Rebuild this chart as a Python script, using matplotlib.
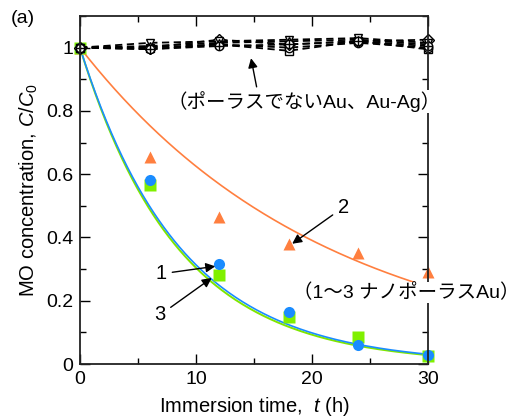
import numpy as np
import matplotlib.pyplot as plt
from matplotlib.ticker import MultipleLocator

plt.rcParams['font.family'] = ['Liberation Sans', 'Noto Sans CJK JP', 'DejaVu Sans']
plt.rcParams['mathtext.fontset'] = 'custom'
plt.rcParams['mathtext.it'] = 'Liberation Sans:italic'
plt.rcParams['mathtext.rm'] = 'Liberation Sans'

# sampling times (h)
t = [0, 6, 12, 18, 24, 30]

# nanoporous Au samples 1-3 (C/C0)
np1 = [1.0, 0.58, 0.315, 0.165, 0.06, 0.028]
np2 = [1.0, 0.655, 0.465, 0.38, 0.35, 0.29]
np3 = [1.0, 0.565, 0.28, 0.15, 0.085, 0.025]

# first-order rate constants of the fitted curves (1/h)
k1 = 0.116
k2 = 0.047
k3 = 0.119

# non-porous Au, Au-Ag
flat_sq = [1.0, 1.0, 1.01, 0.99, 1.02, 0.995]
flat_ci = [1.0, 0.995, 1.01, 1.0, 1.015, 1.0]
flat_di = [1.0, 1.0, 1.025, 1.01, 1.02, 1.025]
flat_dn = [1.0, 1.015, 1.02, 1.025, 1.03, 1.015]
flat_up = [1.0, 1.005, 1.015, 1.02, 1.025, 1.01]
flat_cp = [1.0, 0.995, 1.005, 1.01, 1.02, 1.005]

fig = plt.figure(figsize=(5.18, 4.2), dpi=100)
ax = fig.add_axes([0.1544, 0.1333, 0.6718, 0.8287])

tt = np.linspace(0, 30, 200)
ax.plot(tt, np.exp(-k2*tt), color='#ff7f3f', lw=1.2)
ax.plot(tt, np.exp(-k3*tt), color='#7fe600', lw=1.4)
ax.plot(tt, np.exp(-k1*tt), color='#1a8cff', lw=1.2)

ax.plot(t, np2, '^', color='#ff7f3f', ms=9, mec='none', clip_on=False)
ax.plot(t, np3, 's', color='#80f000', ms=8, mec='none', clip_on=False)
ax.plot(t, np1, 'o', color='#1a8cff', ms=8, mec='none', clip_on=False)

for y, m in [(flat_sq, 's'), (flat_ci, 'o'), (flat_di, 'D'),
             (flat_dn, 'v'), (flat_up, '^'), (flat_cp, 'o')]:
    ax.plot(t, y, '--', color='black', lw=1.3, marker=m, ms=6,
            mfc='white', mec='black', mew=1.0, dashes=(4, 2.5), clip_on=False)
ax.plot(t, flat_cp, '+', color='black', ms=6, mew=1.0, ls='none', clip_on=False)

ax.set_xlim(0, 30)
ax.set_ylim(0, 1.1)
ax.xaxis.set_major_locator(MultipleLocator(10))
ax.xaxis.set_minor_locator(MultipleLocator(5))
ax.yaxis.set_minor_locator(MultipleLocator(0.1))
ax.set_yticks([0, 0.2, 0.4, 0.6, 0.8, 1.0])
ax.set_yticklabels(['0', '0.2', '0.4', '0.6', '0.8', '1'])
ax.tick_params(which='both', direction='in', top=True, right=True, labelsize=14)
ax.tick_params(which='major', length=7, width=1.0, pad=5)
ax.tick_params(which='minor', length=4, width=1.0)
for s in ax.spines.values():
    s.set_linewidth(1.3)
    s.set_color('#222222')

ax.set_xlabel('Immersion time,  $t$ (h)', fontsize=14.5, labelpad=5)
ax.set_ylabel('MO concentration, $C/C_0$', fontsize=14.5, labelpad=4)

fig.text(0.02, 0.955, '(a)', fontsize=14, ha='left', va='center')

arw = dict(arrowstyle='-|>', color='black', lw=1.0, mutation_scale=14)
ax.annotate('（ポーラスでないAu、Au-Ag）', xy=(14.7, 0.975), xytext=(19.3, 0.83),
            fontsize=14, ha='center', va='center',
            bbox=dict(fc='white', ec='none', pad=1),
            arrowprops=dict(arw, relpos=(0.33, 1.0)))
ax.annotate('2', xy=(18.1, 0.375), xytext=(22.7, 0.495), fontsize=14.5,
            ha='center', va='center', arrowprops=arw)
ax.annotate('1', xy=(11.9, 0.31), xytext=(7.0, 0.285), fontsize=14.5,
            ha='center', va='center', arrowprops=arw)
ax.annotate('3', xy=(11.55, 0.277), xytext=(6.9, 0.155), fontsize=14.5,
            ha='center', va='center', arrowprops=arw)
ax.text(28.1, 0.226, '（1～3 ナノポーラスAu）', fontsize=14, ha='center', va='center',
        bbox=dict(fc='white', ec='none', pad=1), clip_on=False, zorder=5)

fig.savefig('out.png', dpi=100)
